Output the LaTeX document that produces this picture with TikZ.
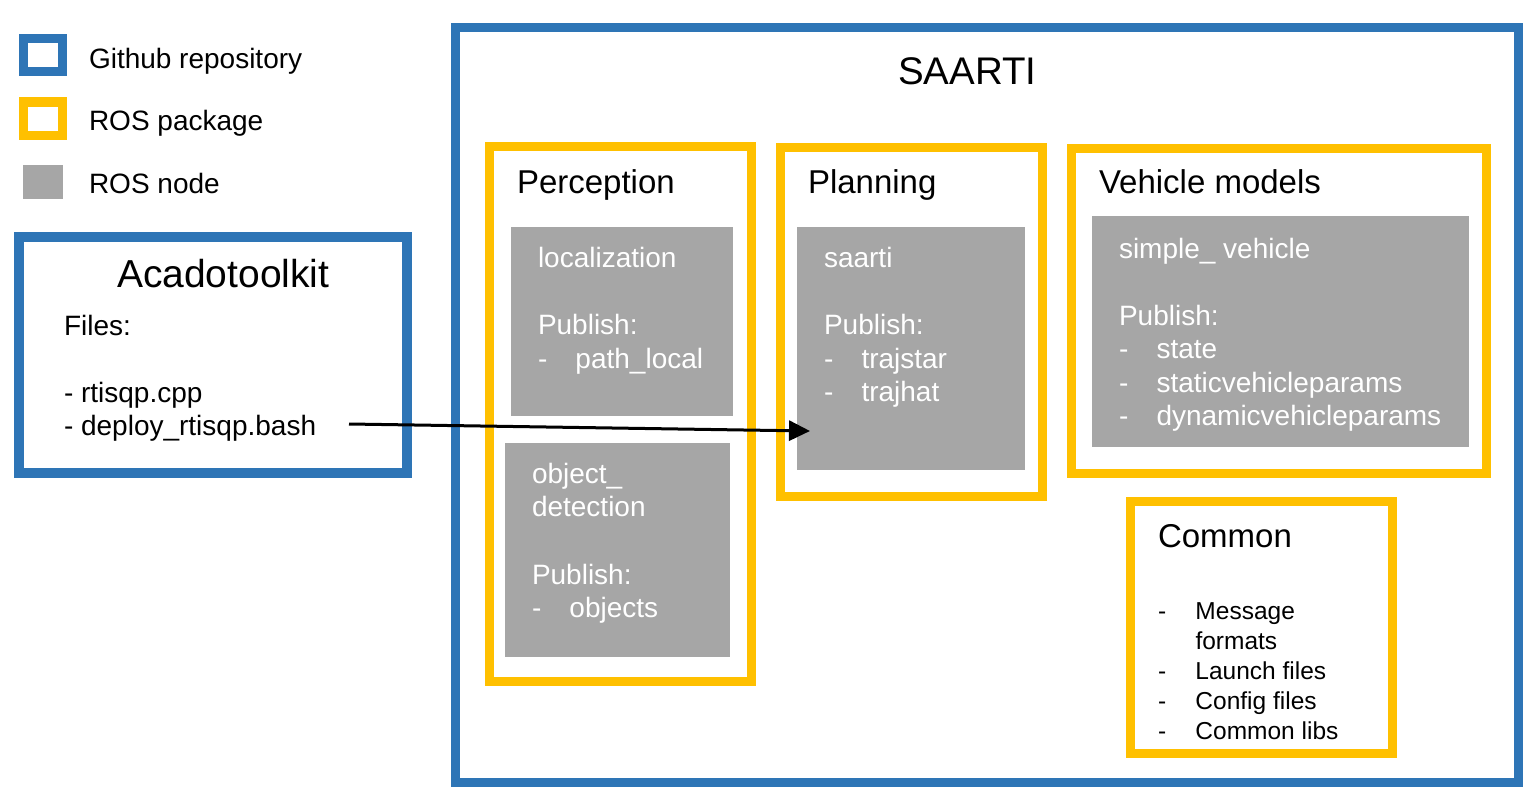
\documentclass[tikz,border=0pt]{standalone}
\usepackage{fontspec}
\setmainfont{Liberation Sans}
\usetikzlibrary{arrows.meta}
\definecolor{repoblue}{HTML}{2E75B6}
\definecolor{pkgyellow}{HTML}{FFC000}
\definecolor{nodegray}{HTML}{A6A6A6}
\newcommand{\blk}[1]{\begin{tabular}[t]{@{}l@{}}#1\end{tabular}}
\newcommand{\itm}[1]{\makebox[37.5pt][l]{-}#1}
\tikzset{
  box/.style={anchor=north west, inner sep=0pt, outer sep=0pt},
  repobox/.style={box, draw=repoblue, line width=9pt},
  pkgbox/.style={box, draw=pkgyellow, line width=9pt},
  rosnode/.style={box, fill=nodegray},
  txt/.style={anchor=base west, inner sep=0pt, outer sep=0pt, text=black},
  wtxt/.style={txt, text=white},
  f28/.style={font=\fontsize{28}{33.7}\selectfont},
  ftitle/.style={font=\fontsize{33}{40}\selectfont},
  conn/.style={line width=3pt, -{Triangle[length=21pt,width=20pt]}}
}
\begin{document}
\begin{tikzpicture}[x=1pt,y=-1pt]
\useasboundingbox (0,0) rectangle (1540,809);
% legend
\node[repobox, minimum width=39pt, minimum height=33pt] (legrepo) at (23.5,38.5) {};
\node[pkgbox, line width=9.5pt, minimum width=39pt, minimum height=33.5pt] (legpkg) at (23.5,102) {};
\node[rosnode, minimum width=40pt, minimum height=34pt] (legnode) at (23,165) {};
\node[txt, f28] (legrepotxt) at (89,68) {Github repository};
\node[txt, f28] (legpkgtxt) at (89,130) {ROS package};
\node[txt, f28] (legnodetxt) at (89,193) {ROS node};
% Acadotoolkit
\node[repobox, line width=10pt, minimum width=388pt, minimum height=236pt] (aca) at (19,237) {};
\node[txt, font=\fontsize{39}{46}\selectfont] (acatitle) at (117,287) {Acadotoolkit};
\node[txt, font=\fontsize{28}{33.5}\selectfont] (acafiles) at (64,335) {\blk{Files:\\ \\- rtisqp.cpp\\- deploy\_rtisqp.bash}};
% SAARTI
\node[repobox, minimum width=1063pt, minimum height=755pt] (saarti) at (455.5,27.5) {};
\node[txt, font=\fontsize{38.5}{46}\selectfont] (saartititle) at (898,84) {SAARTI};
% Perception
\node[pkgbox, minimum width=262pt, minimum height=535pt] (perc) at (489.5,146.5) {};
\node[txt, ftitle] (perctitle) at (517,193) {Perception};
\node[rosnode, minimum width=222pt, minimum height=189pt] (loc) at (511,227) {};
\node[wtxt, f28] (loctxt) at (538,267) {\blk{localization\\ \\Publish:\\\itm{path\_local}}};
\node[rosnode, minimum width=225pt, minimum height=214pt] (obj) at (505,443) {};
\node[wtxt, f28] (objtxt) at (532,483) {\blk{object\_\\detection\\ \\Publish:\\\itm{objects}}};
% Planning
\node[pkgbox, minimum width=262pt, minimum height=349pt] (plan) at (780.5,147.5) {};
\node[txt, ftitle] (plantitle) at (808,193) {Planning};
\node[rosnode, minimum width=228pt, minimum height=243pt] (sa) at (797,227) {};
\node[wtxt, f28] (satxt) at (824,267) {\blk{saarti\\ \\Publish:\\\itm{trajstar}\\\itm{trajhat}}};
% Vehicle models
\node[pkgbox, minimum width=415pt, minimum height=325pt] (veh) at (1071.5,148.5) {};
\node[txt, ftitle] (vehtitle) at (1099,193) {Vehicle models};
\node[rosnode, minimum width=377pt, minimum height=231pt] (sv) at (1092,216) {};
\node[wtxt, font=\fontsize{28}{33.5}\selectfont] (svtxt) at (1119,258) {\blk{simple\_ vehicle\\ \\Publish:\\\itm{state}\\\itm{staticvehicleparams}\\\itm{dynamicvehicleparams}}};
% Common
\node[pkgbox, minimum width=262pt, minimum height=252pt] (common) at (1130.5,501.5) {};
\node[txt, ftitle] (commontitle) at (1158,547) {Common};
\node[txt, font=\fontsize{24.5}{30}\selectfont] (commontxt) at (1158,619) {\blk{\itm{Message}\\\hspace*{37.5pt}formats\\\itm{Launch files}\\\itm{Config files}\\\itm{Common libs}}};
% connector
\coordinate (arrstart) at (349,424);
\coordinate (arrend) at (810,431);
\draw[conn] (arrstart) -- (arrend);
\end{tikzpicture}
\end{document}
